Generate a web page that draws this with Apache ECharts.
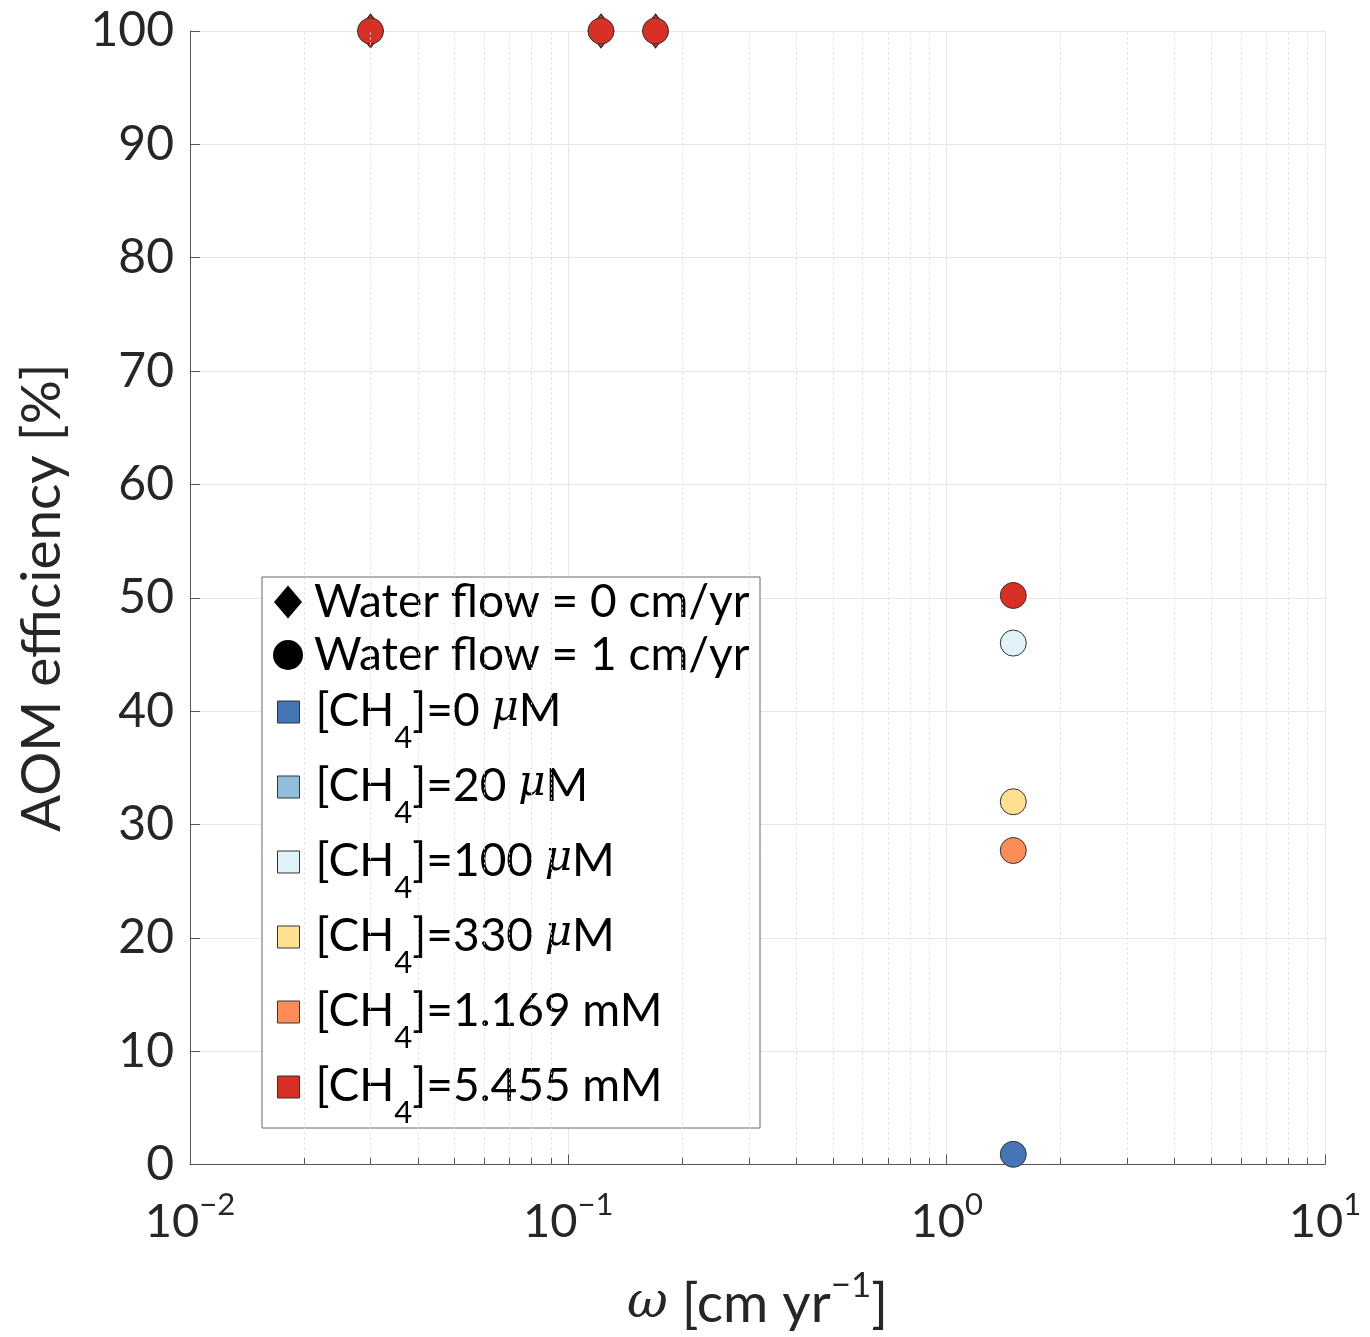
<!DOCTYPE html>
<html>
<head>
<meta charset="utf-8">
<script src="https://cdn.jsdelivr.net/npm/echarts@6/dist/echarts.min.js"></script>
<style>html,body{margin:0;padding:0;background:#fff}#c{width:1370px;height:1337px}</style>
</head>
<body>
<div id="c"></div>
<script>
// ---- data ----
const ch4Values = ['0', '20', '100', '330', '1.169', '5.455'];
const ch4Units = ['μM', 'μM', 'μM', 'μM', 'mM', 'mM'];
// water flow = 0 cm/yr (diamonds), all at [CH4]=5.455 mM
const xNoFlow = [0.03, 0.122, 0.17];
const yNoFlow = [100, 100, 100];
// water flow = 1 cm/yr (circles)
const xFlow = [0.03, 0.122, 0.17, 1.5, 1.5, 1.5, 1.5, 1.5];
const yFlow = [100, 100, 100, 50.2, 46.0, 32.0, 27.7, 0.9];
const cFlow = [5, 5, 5, 5, 2, 3, 4, 0]; // index into ch4Values
// x-axis minor grid positions
const minorX = [0.02,0.03,0.04,0.05,0.06,0.07,0.08,0.09,
                0.2,0.3,0.4,0.5,0.6,0.7,0.8,0.9,
                2,3,4,5,6,7,8,9];

// ---- style ----
const ch4Colors = ['#4575b4', '#91bfdb', '#e0f3f8', '#fee090', '#fc8d59', '#d73027'];
const FONT = 'Lato';
const TXT = '#262626';

const ch4Names = ch4Values.map((v, i) => '[CH4]=' + v + ' ' + ch4Units[i]);

function ch4Rich(i) {
  const u = ch4Units[i] === 'μM' ? '{mu|μ}{n|M}' : '{n|mM}';
  return '{sp|}{n|[CH}{sb|4}{n|]=' + ch4Values[i] + ' }' + u;
}

const richLegend = {
  sp: { width: 11 },
  n: { fontFamily: FONT, fontSize: 46, lineHeight: 48, color: '#000', verticalAlign: 'top' },
  sb: { fontFamily: FONT, fontSize: 31, lineHeight: 30, color: '#000', padding: [34, 0, 0, 0], verticalAlign: 'top' },
  mu: { fontFamily: 'DejaVu Serif', fontStyle: 'italic', fontSize: 42, lineHeight: 48, color: '#000', verticalAlign: 'top' }
};

const series = [];
// legend-only black marker series
series.push({ name: 'Water flow = 0 cm/yr', type: 'scatter', data: [], symbol: 'diamond', itemStyle: { color: '#000', opacity: 1 } });
series.push({ name: 'Water flow = 1 cm/yr', type: 'scatter', data: [], symbol: 'circle', itemStyle: { color: '#000', opacity: 1 } });

// diamonds
series.push({
  name: 'noflow', type: 'scatter', symbol: 'diamond', symbolSize: [26, 34],
  itemStyle: { color: ch4Colors[5], borderColor: '#222', borderWidth: 1, opacity: 1 },
  data: xNoFlow.map((x, i) => [x, yNoFlow[i]]),
  z: 3
});
// circles per CH4 level
ch4Values.forEach((v, ci) => {
  const d = [];
  xFlow.forEach((x, i) => { if (cFlow[i] === ci) d.push([x, yFlow[i]]); });
  series.push({
    name: ch4Names[ci], type: 'scatter', symbol: 'circle', symbolSize: 26,
    itemStyle: { color: ch4Colors[ci], borderColor: '#333', borderWidth: 1, opacity: 1 },
    data: d, z: 4
  });
});
// minor grid lines + minor ticks
series.push({
  name: 'minor', type: 'scatter', data: [], silent: true,
  markLine: {
    silent: true, symbol: 'none', animation: false, label: { show: false },
    lineStyle: { color: '#dcdcdc', type: [2, 3], width: 1 },
    data: minorX.map(x => ({ xAxis: x }))
  }
});
series.push({
  name: 'minorTicks', type: 'line', data: [], silent: true,
  markLine: {
    silent: true, symbol: 'none', animation: false, label: { show: false },
    lineStyle: { color: '#555', type: 'solid', width: 1 },
    data: minorX.map(x => [{ coord: [x, 0] }, { coord: [x, 0.6] }])
  }
});

const legendText = (sp) => ({ rich: { sp: { width: sp }, n: { fontFamily: FONT, fontSize: 46, lineHeight: 48, color: '#000' } } });

const option = {
  animation: false,
  backgroundColor: '#fff',
  grid: { left: 190, right: 45, top: 31, bottom: 170, containLabel: false },
  xAxis: {
    type: 'log', logBase: 10, min: 0.01, max: 10,
    name: '{w|ω}{n| [cm yr}{s|−1}{n|]}',
    nameLocation: 'middle', nameGap: 104,
    nameTextStyle: {
      rich: {
        w: { fontFamily: 'DejaVu Serif', fontStyle: 'italic', fontSize: 50, lineHeight: 56, color: TXT, padding: [16, 0, 0, 0] },
        n: { fontFamily: FONT, fontSize: 55, lineHeight: 56, color: TXT, padding: [16, 0, 0, 0] },
        s: { fontFamily: FONT, fontSize: 35, lineHeight: 34, color: TXT, verticalAlign: 'top' }
      }
    },
    axisLine: { show: true, lineStyle: { color: '#555', width: 1 } },
    axisTick: { show: true, inside: true, length: 10, lineStyle: { color: '#555' } },
    splitLine: { show: true, lineStyle: { color: '#e6e6e6', width: 1 } },
    axisLabel: {
      margin: 25, showMinLabel: true, showMaxLabel: true,
      formatter: function (v) {
        const e = Math.round(Math.log10(v));
        return '{n|10}{s|' + (e < 0 ? '−' + (-e) : e) + '}';
      },
      rich: {
        n: { fontFamily: FONT, fontSize: 47, lineHeight: 46, color: TXT, padding: [18, 0, 0, 0] },
        s: { fontFamily: FONT, fontSize: 31, lineHeight: 30, color: TXT, verticalAlign: 'top' }
      }
    }
  },
  yAxis: {
    type: 'value', min: 0, max: 100, interval: 10,
    name: 'AOM efficiency [%]', nameLocation: 'middle', nameGap: 120, nameRotate: 90,
    nameTextStyle: { fontFamily: FONT, fontSize: 55, color: TXT },
    axisLine: { show: true, lineStyle: { color: '#555', width: 1 } },
    axisTick: { show: true, inside: true, length: 10, lineStyle: { color: '#555' } },
    splitLine: { show: true, lineStyle: { color: '#e6e6e6', width: 1 } },
    axisLabel: { fontFamily: FONT, fontSize: 48, color: TXT, margin: 16 }
  },
  legend: [
    {
      left: 274, top: 579, padding: 0, orient: 'vertical', itemWidth: 28, itemHeight: 33,
      data: [{ name: 'Water flow = 0 cm/yr', icon: 'diamond' }],
      formatter: n => '{sp|}{n|' + n + '}',
      textStyle: legendText(7),
      selectedMode: false
    },
    {
      left: 273, top: 632, padding: 0, orient: 'vertical', itemWidth: 30, itemHeight: 30,
      data: [{ name: 'Water flow = 1 cm/yr', icon: 'circle' }],
      formatter: n => '{sp|}{n|' + n + '}',
      textStyle: legendText(6),
      selectedMode: false
    },
    {
      left: 277, top: 688, padding: 0, orient: 'vertical', itemWidth: 22, itemHeight: 22, itemGap: 10,
      data: ch4Names.map(n => ({ name: n, icon: 'rect' })),
      itemStyle: { borderColor: '#333', borderWidth: 1, opacity: 1 },
      formatter: n => ch4Rich(ch4Names.indexOf(n)),
      textStyle: { rich: richLegend },
      selectedMode: false
    }
  ],
  graphic: [{
    type: 'rect', z: 3, silent: true,
    shape: { x: 262, y: 577, width: 498, height: 551 },
    style: { fill: '#fff', stroke: '#666', lineWidth: 1 }
  }],
  series: series
};

const chart = echarts.init(document.getElementById('c'), null, { renderer: 'canvas' });
chart.setOption(option);
</script>
</body>
</html>
